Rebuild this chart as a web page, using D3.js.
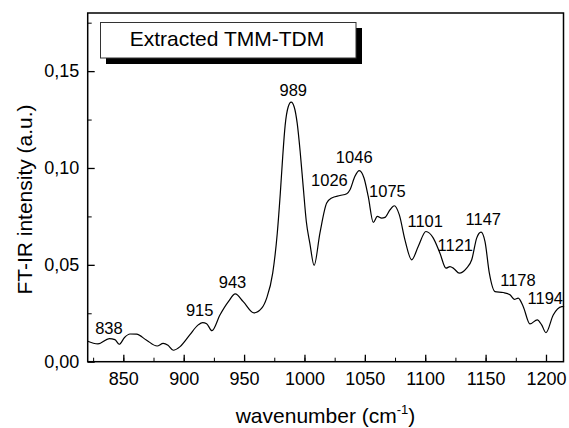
<!DOCTYPE html>
<html>
<head>
<meta charset="utf-8">
<script src="https://cdn.jsdelivr.net/npm/d3@7"></script>
<style>
  body { margin: 0; background: #fff; }
  svg { display: block; font-family: Arial, "Liberation Sans", sans-serif; }
  .axis path, .axis line { stroke: #000; }
  .axis text { font-size: 18px; fill: #000; }
</style>
</head>
<body>
<div id="graph"></div>
<script>
  // spectrum
  const wavenumber = [820, 829, 838.4, 843, 846.6, 851, 855.5, 861, 869, 878, 883, 887, 891.4, 897, 905, 912, 915.7, 919, 923.4, 930, 937, 942.7, 949.3, 958.2, 964.6, 968.7, 973.7, 977.5, 980, 982, 984, 986.5, 989, 991.5, 994, 996.5, 999, 1001.5, 1004.5, 1008, 1012.8, 1018.4, 1022.5, 1029.4, 1035, 1037.7, 1041.8, 1045.4, 1049.3, 1052.8, 1057, 1060.3, 1063.9, 1066.7, 1070.8, 1074.4, 1078.5, 1083.2, 1088.8, 1094.2, 1100.6, 1106.7, 1112.2, 1117.2, 1120.5, 1123.8, 1128.2, 1134.3, 1138.5, 1142.6, 1146.2, 1149.5, 1153.1, 1157.8, 1164.6, 1170.2, 1173.8, 1177, 1181.2, 1186.7, 1192.8, 1196.4, 1200, 1206, 1213, 1215];
  const intensity = [0.0107, 0.0092, 0.0119, 0.0114, 0.0090, 0.0125, 0.0143, 0.0142, 0.0112, 0.0081, 0.0095, 0.0085, 0.0059, 0.0078, 0.0138, 0.0190, 0.0202, 0.0196, 0.0160, 0.0241, 0.0310, 0.0350, 0.0310, 0.0252, 0.0276, 0.0328, 0.0457, 0.0664, 0.0870, 0.1060, 0.1220, 0.1315, 0.1340, 0.1315, 0.1230, 0.1080, 0.0900, 0.0725, 0.0610, 0.0497, 0.0664, 0.0819, 0.0845, 0.0858, 0.0867, 0.0888, 0.0957, 0.0986, 0.0948, 0.0853, 0.0719, 0.0750, 0.0741, 0.0745, 0.0784, 0.0805, 0.0759, 0.0629, 0.0526, 0.0595, 0.0672, 0.0638, 0.0560, 0.0483, 0.0491, 0.0480, 0.0457, 0.0483, 0.0526, 0.0638, 0.0669, 0.0620, 0.0457, 0.0362, 0.0357, 0.0345, 0.0322, 0.0328, 0.0284, 0.0195, 0.0216, 0.0190, 0.0150, 0.0241, 0.0284, 0.0285];

  // peak annotations (label, anchor in data units)
  const peakLabels = ['838', '915', '943', '989', '1026', '1046', '1075', '1101', '1121', '1147', '1178', '1194'];
  const peakX = [838.1, 913.2, 940.4, 990.7, 1020.7, 1041.2, 1068.7, 1100.0, 1124.9, 1148.1, 1176.8, 1199.4];
  const peakY = [0.0143, 0.0236, 0.0380, 0.1370, 0.0908, 0.1026, 0.0850, 0.0696, 0.0572, 0.0707, 0.0393, 0.0298];

  const xTicks = [850, 900, 950, 1000, 1050, 1100, 1150, 1200];
  const yTicks = [0, 0.05, 0.10, 0.15];

  const width = 569, height = 428;
  const m = { left: 87.7, right: 563.5, top: 13, bottom: 361.7 };

  const x = d3.scaleLinear().domain([820.5, 1214.5]).range([m.left, m.right]);
  const y = d3.scaleLinear().domain([0, 0.18]).range([m.bottom, m.top]);

  const svg = d3.select('#graph').append('svg')
    .attr('width', width).attr('height', height);

  const comma = (v) => d3.format('.2f')(v).replace('.', ',');

  // minor ticks
  svg.append('g').attr('class', 'axis')
    .attr('transform', 'translate(0,' + m.bottom + ')')
    .call(d3.axisBottom(x).tickValues(d3.range(825, 1215, 25)).tickSize(-4).tickFormat(''))
    .select('.domain').remove();
  svg.append('g').attr('class', 'axis')
    .attr('transform', 'translate(' + m.left + ',0)')
    .call(d3.axisLeft(y).tickValues(d3.range(0.025, 0.18, 0.05)).tickSize(-4).tickFormat(''))
    .select('.domain').remove();

  // major ticks
  const xAxis = svg.append('g').attr('class', 'axis')
    .attr('transform', 'translate(0,' + m.bottom + ')')
    .call(d3.axisBottom(x).tickValues(xTicks).tickSize(-7).tickPadding(10.5).tickFormat(d3.format('d')));
  xAxis.select('.domain').remove();
  xAxis.selectAll('line').attr('stroke-width', 1.3);

  const yAxis = svg.append('g').attr('class', 'axis')
    .attr('transform', 'translate(' + m.left + ',0)')
    .call(d3.axisLeft(y).tickValues(yTicks).tickSize(-7).tickPadding(8.4).tickFormat(comma));
  yAxis.select('.domain').remove();
  yAxis.selectAll('line').attr('stroke-width', 1.3);

  // frame
  svg.append('rect')
    .attr('x', m.left).attr('y', m.top)
    .attr('width', m.right - m.left).attr('height', m.bottom - m.top)
    .attr('fill', 'none').attr('stroke', '#000').attr('stroke-width', 1.5);

  // spectrum
  const pts = wavenumber.map((w, i) => [w, intensity[i]]);
  const line = d3.line().x(d => x(d[0])).y(d => y(d[1])).curve(d3.curveMonotoneX);
  svg.append('path').datum(pts)
    .attr('d', line)
    .attr('fill', 'none').attr('stroke', '#000').attr('stroke-width', 1.2);

  svg.append('g').selectAll('text')
    .data(peakLabels)
    .enter().append('text')
    .attr('x', (d, i) => x(peakX[i]))
    .attr('y', (d, i) => y(peakY[i]))
    .attr('text-anchor', 'middle')
    .attr('font-size', 16.5)
    .text(d => d);

  // legend box with drop shadow
  svg.append('rect').attr('x', 106).attr('y', 28).attr('width', 256).attr('height', 36).attr('fill', '#000');
  svg.append('rect').attr('x', 100.5).attr('y', 22.5).attr('width', 255.5).attr('height', 35.5)
    .attr('fill', '#fff').attr('stroke', '#333').attr('stroke-width', 1);
  svg.append('text').attr('x', 227).attr('y', 45.5)
    .attr('text-anchor', 'middle').attr('font-size', 21)
    .text('Extracted TMM-TDM');

  // axis titles
  const xt = svg.append('text').attr('x', 325.5).attr('y', 422.5)
    .attr('text-anchor', 'middle').attr('font-size', 21);
  xt.append('tspan').text('wavenumber (cm');
  xt.append('tspan').attr('font-size', 13).attr('dy', -9).text('-1');
  xt.append('tspan').attr('dy', 9).text(')');

  svg.append('text')
    .attr('transform', 'translate(31.5,199.5) rotate(-90)')
    .attr('text-anchor', 'middle').attr('font-size', 21)
    .text('FT-IR intensity (a.u.)');
</script>
</body>
</html>
